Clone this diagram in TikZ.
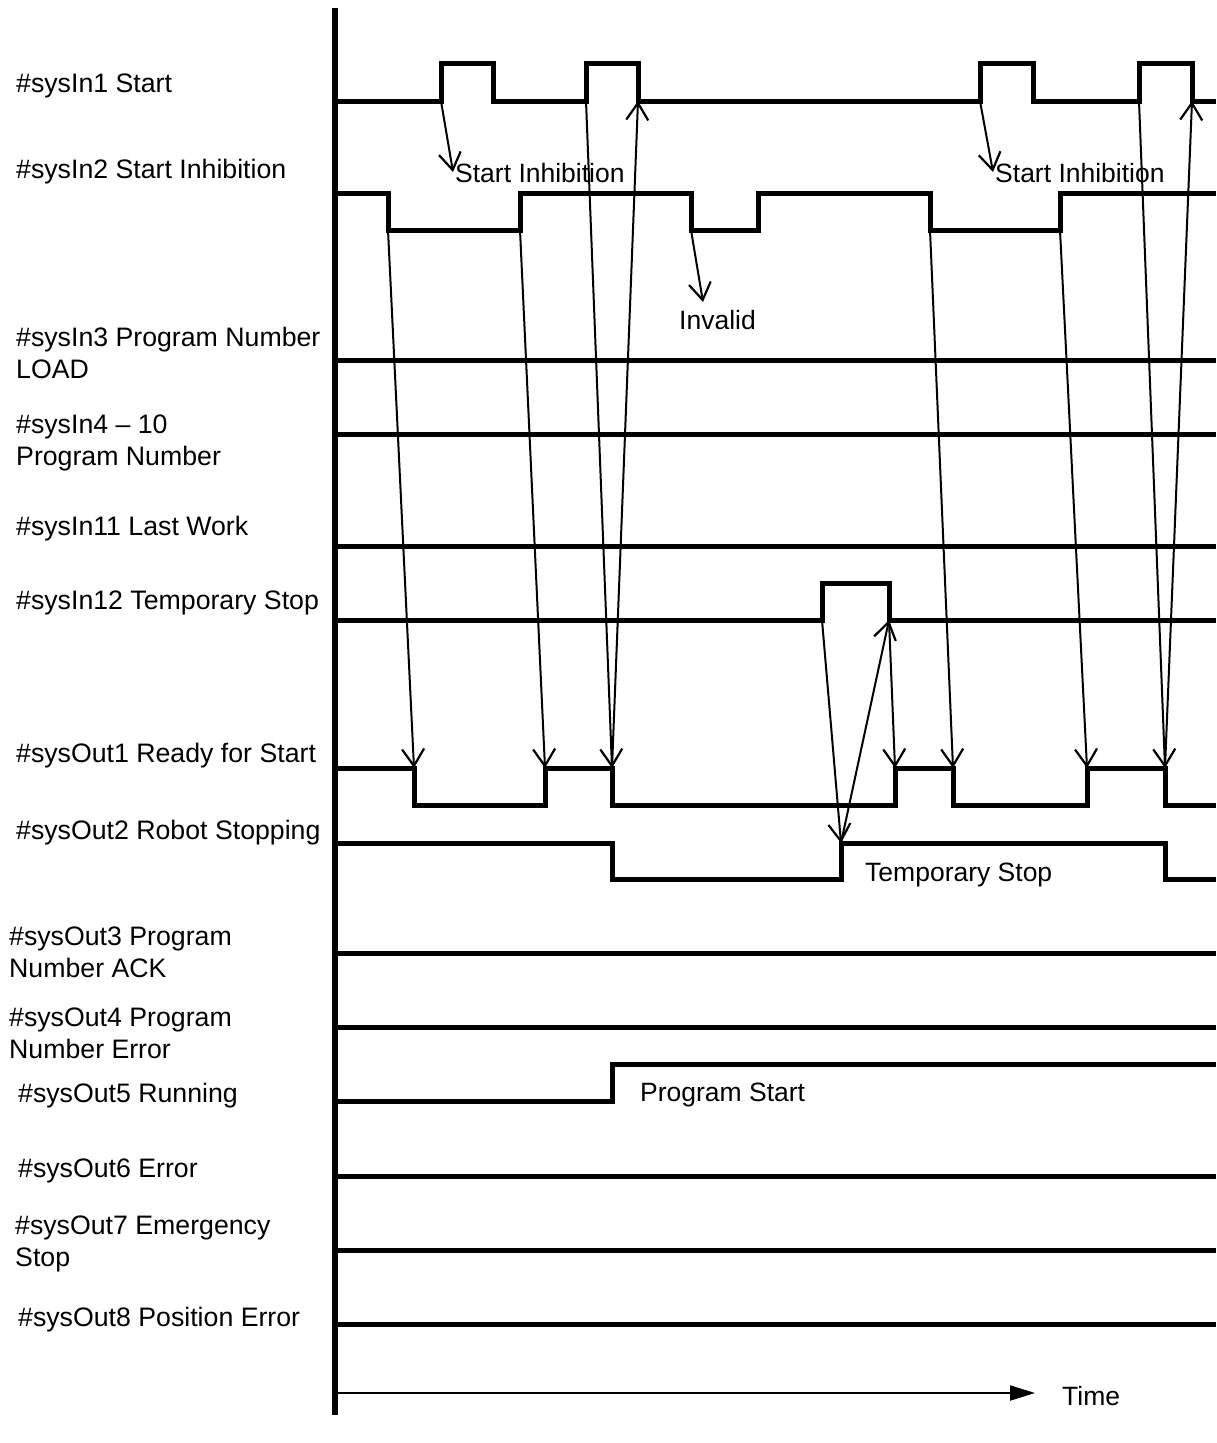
\documentclass[tikz,border=0pt]{standalone}
\usepackage{fontspec}
\setmainfont{Liberation Sans}
\usetikzlibrary{arrows.meta}
\begin{document}
\begin{tikzpicture}[x=1pt,y=-1pt,
  sig/.style={line width=5pt, line join=miter, line cap=butt},
  axisline/.style={line width=5.5pt},
  arr/.style={line width=2pt, -{Straight Barb[length=17pt,width=22pt,line width=2.2pt]}},
  timearr/.style={line width=2pt, -{Triangle[length=25pt,width=15pt]}},
  lbl/.style={anchor=base west, inner sep=0pt, align=left, font=\fontsize{26.7}{32}\selectfont},
  note/.style={anchor=base west, inner sep=0pt, font=\fontsize{26.5}{32}\selectfont}]
\useasboundingbox (0,0) rectangle (1216,1443);

% axis
\coordinate (axtop) at (335,8);
\coordinate (axbot) at (335,1415);
\draw[axisline] (axtop) -- (axbot);

% labels
\node[lbl] (l1) at (16,92) {\#sysIn1 Start};
\node[lbl] (l2) at (16,178) {\#sysIn2 Start Inhibition};
\node[lbl] (l3) at (16,378) {\#sysIn3 Program Number\\LOAD};
\node[lbl] (l4) at (16,465) {\#sysIn4 – 10\\Program Number};
\node[lbl] (l11) at (16,535) {\#sysIn11 Last Work};
\node[lbl] (l12) at (16,609) {\#sysIn12 Temporary Stop};
\node[lbl] (o1) at (16,762) {\#sysOut1 Ready for Start};
\node[lbl] (o2) at (16,839) {\#sysOut2 Robot Stopping};
\node[lbl] (o3) at (9,977) {\#sysOut3 Program\\Number ACK};
\node[lbl] (o4) at (9,1058) {\#sysOut4 Program\\Number Error};
\node[lbl] (o5) at (18,1102) {\#sysOut5 Running};
\node[lbl] (o6) at (18,1177) {\#sysOut6 Error};
\node[lbl] (o7) at (15,1266) {\#sysOut7 Emergency\\Stop};
\node[lbl] (o8) at (18,1326) {\#sysOut8 Position Error};

% signals
\draw[sig] (337,101) -- (441,101) -- (441,63) -- (493,63) -- (493,101) -- (586,101) -- (586,63) -- (638,63) -- (638,101) -- (980,101) -- (980,63) -- (1033,63) -- (1033,101) -- (1139,101) -- (1139,63) -- (1192,63) -- (1192,101) -- (1216,101);
\draw[sig] (337,193) -- (388,193) -- (388,230) -- (520,230) -- (520,193) -- (691,193) -- (691,230) -- (758,230) -- (758,193) -- (930,193) -- (930,230) -- (1060,230) -- (1060,193) -- (1216,193);
\draw[sig] (337,360) -- (1216,360);
\draw[sig] (337,434) -- (1216,434);
\draw[sig] (337,546) -- (1216,546);
\draw[sig] (337,620) -- (822,620) -- (822,583) -- (889,583) -- (889,620) -- (1216,620);
\draw[sig] (337,768) -- (414,768) -- (414,805) -- (545,805) -- (545,768) -- (612,768) -- (612,805) -- (895,805) -- (895,768) -- (953,768) -- (953,805) -- (1087,805) -- (1087,768) -- (1165,768) -- (1165,805) -- (1216,805);
\draw[sig] (337,843) -- (612,843) -- (612,879) -- (841,879) -- (841,843) -- (1165,843) -- (1165,879) -- (1216,879);
\draw[sig] (337,953) -- (1216,953);
\draw[sig] (337,1027) -- (1216,1027);
\draw[sig] (337,1101) -- (612,1101) -- (612,1064) -- (1216,1064);
\draw[sig] (337,1176) -- (1216,1176);
\draw[sig] (337,1250) -- (1216,1250);
\draw[sig] (337,1324) -- (1216,1324);

% edge coordinates
\coordinate (s1r1) at (441,101);
\coordinate (s1r2) at (586,101);
\coordinate (s1f2) at (638,101);
\coordinate (s1r3) at (980,101);
\coordinate (s1r4) at (1139,101);
\coordinate (s1f4) at (1192,101);
\coordinate (s2f1) at (388,230);
\coordinate (s2r1) at (520,230);
\coordinate (s2f2) at (691,230);
\coordinate (s2f3) at (930,230);
\coordinate (s2r3) at (1060,230);
\coordinate (s12r) at (822,620);
\coordinate (s12f) at (889,620);
\coordinate (r1f1) at (414,768);
\coordinate (r1r1) at (545,768);
\coordinate (r1f2) at (612,768);
\coordinate (r1r2) at (895,768);
\coordinate (r1f3) at (953,768);
\coordinate (r1r3) at (1087,768);
\coordinate (r1f4) at (1165,768);
\coordinate (r2r) at (841,843);
\coordinate (inh1) at (453,172);
\coordinate (inh2) at (993,172);
\coordinate (inv) at (703,302);

% annotations
\node[note] (t1) at (455,182) {Start Inhibition};
\node[note] (t2) at (995,182) {Start Inhibition};
\node[note] (t3) at (679,329) {Invalid};
\node[note] (t4) at (865,881) {Temporary Stop};
\node[note] (t5) at (640,1101) {Program Start};
\node[note] (t6) at (1062,1405) {Time};

% arrows
\draw[arr] (s1r1) -- (inh1);
\draw[arr] (s1r3) -- (inh2);
\draw[arr] (s2f2) -- (inv);
\draw[arr] (s2f1) -- (r1f1);
\draw[arr] (s2r1) -- (r1r1);
\draw[arr] (s1r2) -- (r1f2);
\draw[arr] (r1f2) -- (s1f2);
\draw[arr] (s12r) -- (r2r);
\draw[arr] (r2r) -- (s12f);
\draw[arr] (s12f) -- (r1r2);
\draw[arr] (s2f3) -- (r1f3);
\draw[arr] (s2r3) -- (r1r3);
\draw[arr] (s1r4) -- (r1f4);
\draw[arr] (r1f4) -- (s1f4);

% time axis
\coordinate (tstart) at (337,1393);
\coordinate (tend) at (1035,1393);
\draw[timearr] (tstart) -- (tend);
\end{tikzpicture}
\end{document}
